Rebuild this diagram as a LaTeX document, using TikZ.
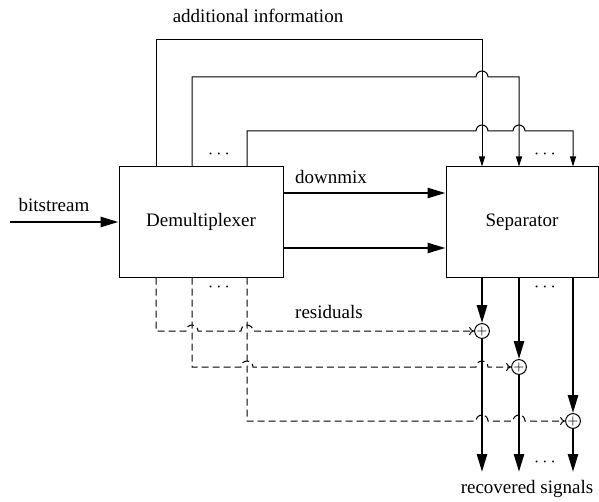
\documentclass[tikz,border=0pt]{standalone}
\usepackage{fontspec}
\setmainfont{Liberation Serif}
\usepackage{tikz}
\usetikzlibrary{arrows.meta, positioning, shapes}

\begin{document}
\begin{tikzpicture}[x=0.5pt, y=-0.5pt,
    font=\fontsize{9.5}{11}\selectfont,
    block/.style={draw, line width=0.5pt, rectangle, inner sep=0pt},
    sum/.style={draw, line width=0.5pt, circle, inner sep=0pt, minimum size=7.4pt, font=\fontsize{6}{6}\selectfont},
    bus/.style={line width=1.3pt, -{Triangle[length=9pt, width=5pt]}},
    info/.style={line width=0.5pt, -{Triangle[length=5pt, width=3pt]}},
    resid/.style={line width=0.5pt, dash pattern=on 3.5pt off 2pt, -{To[length=2.5pt, width=4pt]}}]
  \useasboundingbox (0,0) rectangle (599,502);

  % blocks
  \node[block, minimum width=82pt, minimum height=55pt] (demux) at (201,222) {Demultiplexer};
  \node[block, minimum width=76pt, minimum height=55pt] (sep) at (522,222) {Separator};

  % columns
  \coordinate (tap1) at (156,0);
  \coordinate (tap2) at (192,0);
  \coordinate (tap3) at (247,0);
  \coordinate (col1) at (482,0);
  \coordinate (col2) at (519,0);
  \coordinate (col3) at (573,0);
  \coordinate (top1) at (0,40);
  \coordinate (top2) at (0,77);
  \coordinate (top3) at (0,131);
  \coordinate (in) at (10,222);
  \coordinate (out1) at (482,472);
  \coordinate (out2) at (519,472);
  \coordinate (out3) at (573,472);

  % adders
  \node[sum] (sum1) at (482,331) {$+$};
  \node[sum] (sum2) at (519,367) {$+$};
  \node[sum] (sum3) at (573,421) {$+$};

  % input and downmix
  \draw[bus] (in) -- (demux.west);
  \draw[bus] (demux.east |- 0,193) -- (sep.west |- 0,193);
  \draw[bus] (demux.east |- 0,248) -- (sep.west |- 0,248);

  % additional information
  \draw[info] (demux.north -| tap1) -- (tap1 |- top1) -- (col1 |- top1) -- (sep.north -| col1);
  \draw[info] (demux.north -| tap2) -- (tap2 |- top2) -- ([xshift=-3pt]col1 |- top2)
    arc[start angle=180, end angle=0, radius=3pt] -- (col2 |- top2) -- (sep.north -| col2);
  \draw[info] (demux.north -| tap3) -- (tap3 |- top3) -- ([xshift=-3pt]col1 |- top3)
    arc[start angle=180, end angle=0, radius=3pt] -- ([xshift=-3pt]col2 |- top3)
    arc[start angle=180, end angle=0, radius=3pt] -- (col3 |- top3) -- (sep.north -| col3);

  % separator outputs
  \draw[bus] (sep.south -| col1) -- (sum1);
  \draw[bus] (sep.south -| col2) -- (sum2);
  \draw[bus] (sep.south -| col3) -- (sum3);
  \draw[bus] (sum1) -- (out1);
  \draw[bus] (sum2) -- (out2);
  \draw[bus] (sum3) -- (out3);

  % residuals
  \draw[resid] (demux.south -| tap1) -- (tap1 |- sum1) -- ([xshift=-3pt]tap2 |- sum1)
    arc[start angle=180, end angle=0, radius=3pt] -- ([xshift=-3pt]tap3 |- sum1)
    arc[start angle=180, end angle=0, radius=3pt] -- (sum1);
  \draw[resid] (demux.south -| tap2) -- (tap2 |- sum2) -- ([xshift=-3pt]tap3 |- sum2)
    arc[start angle=180, end angle=0, radius=3pt] -- ([xshift=-3pt]col1 |- sum2)
    arc[start angle=180, end angle=0, radius=3pt] -- (sum2);
  \draw[resid] (demux.south -| tap3) -- (tap3 |- sum3) -- ([xshift=-3pt]col1 |- sum3)
    arc[start angle=180, end angle=0, radius=3pt] -- ([xshift=-3pt]col2 |- sum3)
    arc[start angle=180, end angle=0, radius=3pt] -- (sum3);

  % labels
  \node (lbits) at (54,205) {bitstream};
  \node (ldown) at (331,177) {downmix};
  \node (linfo) at (258,16) {additional information};
  \node (lres) at (329,312) {residuals};
  \node (lrec) at (527,489) {recovered signals};
  \node (dots1) at (219,154) {$\cdots$};
  \node (dots2) at (545,154) {$\cdots$};
  \node (dots3) at (219,287) {$\cdots$};
  \node (dots4) at (545,287) {$\cdots$};
  \node (dots5) at (545,462) {$\cdots$};
\end{tikzpicture}
\end{document}
